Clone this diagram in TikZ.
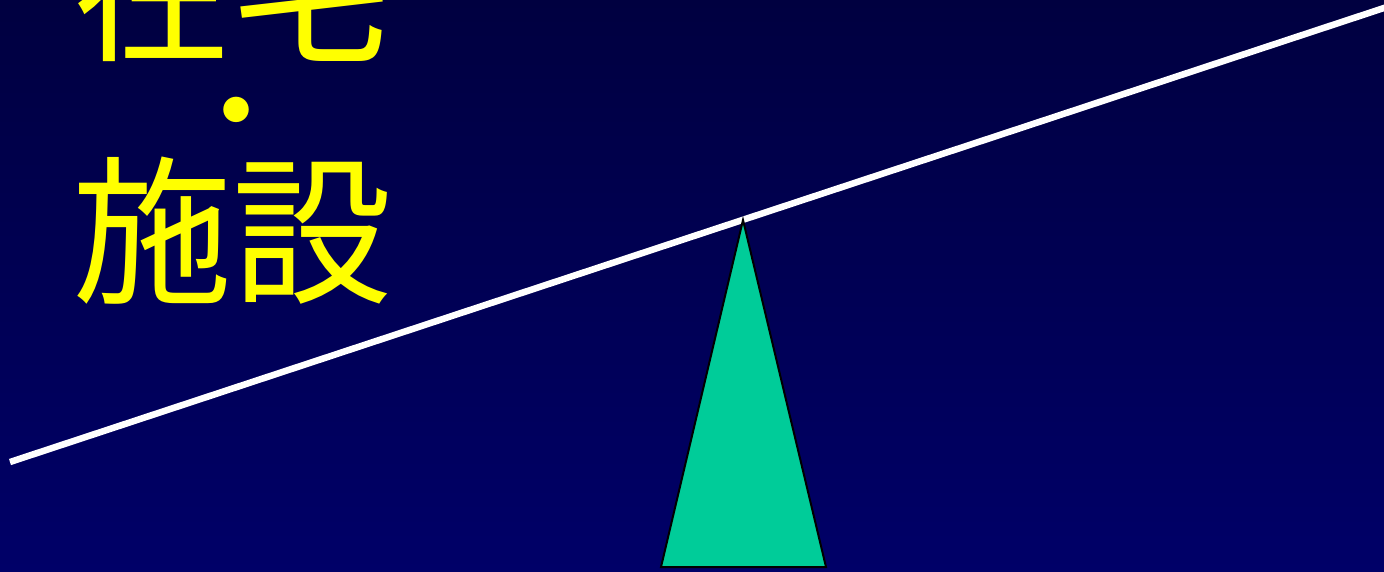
\documentclass[tikz,border=0pt]{standalone}
\usepackage{fontspec}
\newfontfamily\cjk{Noto Sans CJK JP}
\definecolor{bgtop}{RGB}{0,0,64}
\definecolor{bgbot}{RGB}{0,0,104}
\definecolor{fulcrum}{RGB}{0,204,153}
\definecolor{txt}{RGB}{255,255,0}
\tikzset{
  bigtext/.style={font=\cjk\fontsize{160}{121}\selectfont, text=txt, inner sep=0pt, anchor=base},
  dottext/.style={font=\cjk\fontsize{120}{120}\selectfont, text=txt, inner sep=0pt, anchor=base},
  beam/.style={white, line width=6.5pt},
  pivot/.style={fill=fulcrum, draw=black, line width=2pt, line join=miter}
}
\begin{document}
\begin{tikzpicture}[x=1pt,y=-1pt]
\useasboundingbox (0,0) rectangle (1384,571);
\shade[top color=bgtop, bottom color=bgbot] (0,0) rectangle (1384,571);
\clip (0,0) rectangle (1384,571);
\node[bigtext] (t1) at (232,49) {在宅};
\node[dottext] (t2) at (236,155) {・};
\node[bigtext] (t3) at (232,291) {施設};
\coordinate (L) at (10,462);
\coordinate (R) at (1400,2.7);
\draw[beam] (L) -- (R);
\coordinate (apex) at (743,220);
\coordinate (bl) at (661,567);
\coordinate (br) at (826,567);
\draw[pivot] (apex) -- (bl) -- (br) -- cycle;
\end{tikzpicture}
\end{document}
